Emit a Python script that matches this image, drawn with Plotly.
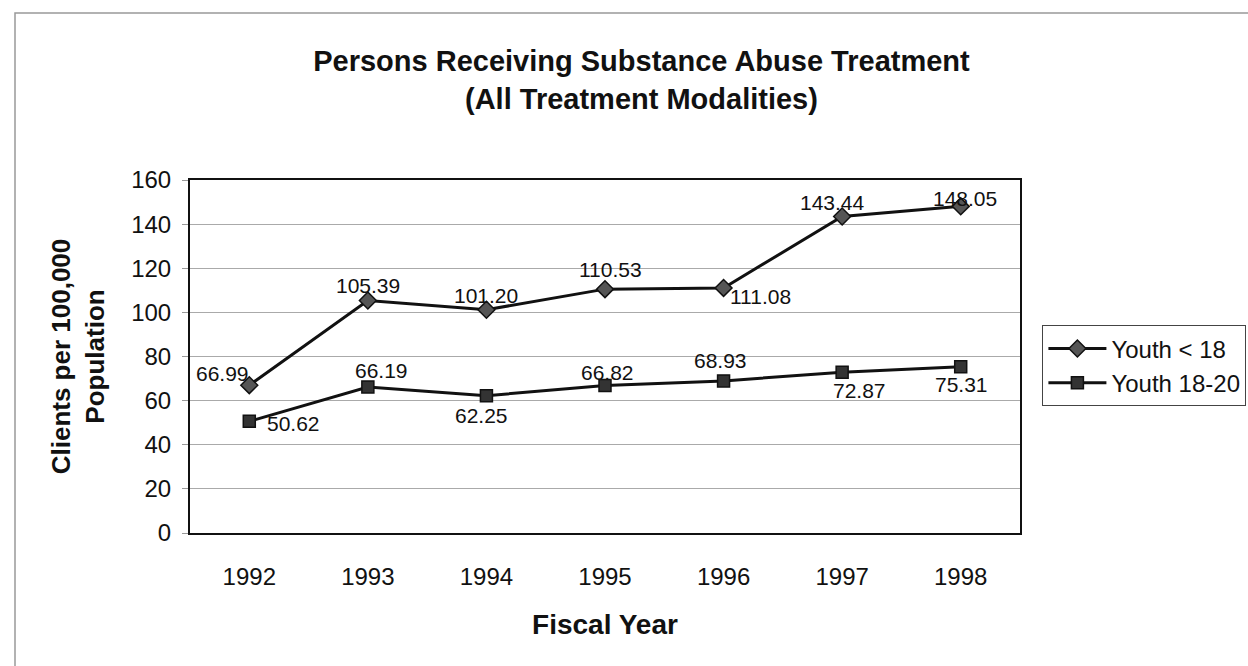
import plotly.graph_objects as go

years = ["1992", "1993", "1994", "1995", "1996", "1997", "1998"]
youth_under_18 = [66.99, 105.39, 101.20, 110.53, 111.08, 143.44, 148.05]
youth_18_20 = [50.62, 66.19, 62.25, 66.82, 68.93, 72.87, 75.31]
y_ticks = [0, 20, 40, 60, 80, 100, 120, 140, 160]

# label offsets (pixels) relative to each point: (xshift, yshift)
offs_under_18 = [(-27, 12), (0, 15), (0, 14), (5, 20), (37, -9), (-10, 14), (4, 8)]
offs_18_20 = [(44, -2), (14, 16), (-5, -20), (2, 13), (-3, 20), (17, -18), (1, -18)]

FONT = "Liberation Sans, Arial, sans-serif"
INK = "#111"

fig = go.Figure()
fig.add_trace(go.Scatter(
    x=years, y=youth_under_18, name="Youth < 18",
    mode="lines+markers",
    line=dict(color=INK, width=3),
    marker=dict(symbol="diamond", size=13, color="#555",
                line=dict(color=INK, width=1.5)),
))
fig.add_trace(go.Scatter(
    x=years, y=youth_18_20, name="Youth 18-20",
    mode="lines+markers",
    line=dict(color=INK, width=3),
    marker=dict(symbol="square", size=12, color="#333",
                line=dict(color=INK, width=1.5)),
))

# value labels: category axes place annotations by category index
for series, offs in ((youth_under_18, offs_under_18), (youth_18_20, offs_18_20)):
    for i, (v, (dx, dy)) in enumerate(zip(series, offs)):
        fig.add_annotation(
            x=i, y=v, xref="x", yref="y", text=f"{v:.2f}",
            showarrow=False, xanchor="center", yanchor="middle",
            xshift=dx, yshift=dy,
            font=dict(size=21, family=FONT, color=INK),
        )

fig.update_layout(
    width=1248, height=666,
    margin=dict(l=190, r=228, t=180, b=133, autoexpand=False),
    paper_bgcolor="white", plot_bgcolor="white",
    font=dict(family=FONT, color=INK),
    title=dict(
        text="<b>Persons Receiving Substance Abuse Treatment<br>(All Treatment Modalities)</b>",
        x=0.514, xanchor="center", xref="container",
        y=1 - 71 / 666, yanchor="middle", yref="container",
        font=dict(size=29, family=FONT, color=INK),
    ),
    legend=dict(
        x=1.027, y=0.588, xanchor="left", yanchor="top",
        bordercolor="#444", borderwidth=1, bgcolor="white",
        font=dict(size=24, family=FONT, color=INK),
        itemwidth=58, tracegroupgap=0,
    ),
    showlegend=True,
)

fig.update_xaxes(
    type="category", range=[-0.5, 6.5],
    showline=True, linecolor=INK, linewidth=2, mirror=True,
    showgrid=False, ticks="", ticklabelstandoff=21,
    tickfont=dict(size=24, family=FONT, color=INK),
    title=dict(text="<b>Fiscal Year</b>", standoff=26,
               font=dict(size=28, family=FONT, color=INK)),
)
fig.update_yaxes(
    range=[0, 160], tickvals=y_ticks,
    showline=True, linecolor=INK, linewidth=2, mirror=True,
    showgrid=True, gridcolor="#aaaaaa", gridwidth=1,
    ticks="outside", ticklen=6, tickcolor="#999", ticklabelstandoff=6,
    tickfont=dict(size=24, family=FONT, color=INK),
    title=dict(text="<b>Clients per 100,000<br>Population</b>", standoff=19,
               font=dict(size=26, family=FONT, color=INK)),
    zeroline=False,
)

# outer chart frame (top and left edges visible)
fig.add_shape(type="rect", xref="paper", yref="paper",
              x0=(15 - 190) / 830, x1=1.4, y0=-0.6, y1=(533 - 13) / 353,
              line=dict(color="#999", width=1.5), layer="below")

fig.write_html("out.html")
